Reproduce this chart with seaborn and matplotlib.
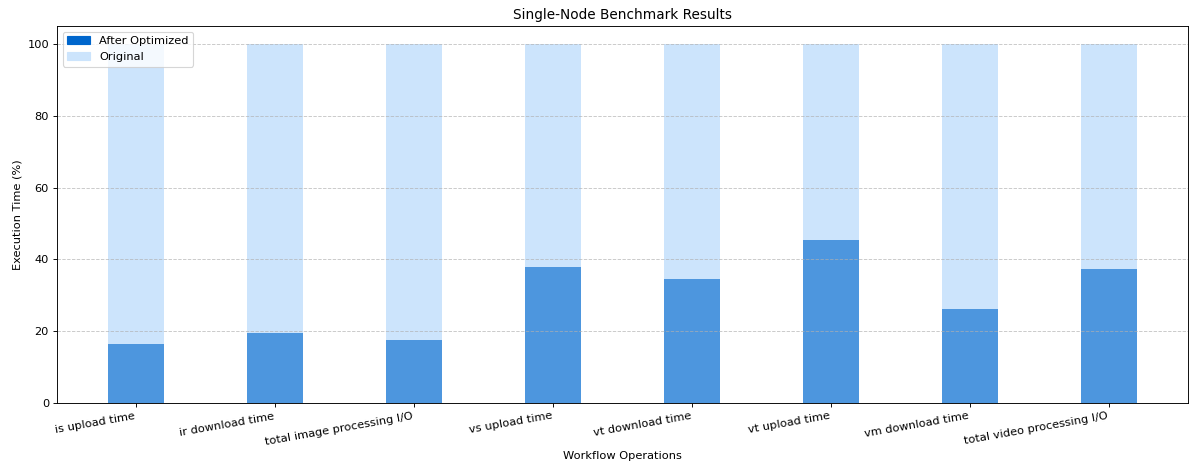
import matplotlib.pyplot as plt
import pandas as pd
import seaborn as sns
from matplotlib.patches import Patch

operations = [
    "is upload time",
    "ir download time",
    "total image processing I/O",
    "vs upload time",
    "vt download time",
    "vt upload time",
    "vm download time",
    "total video processing I/O",
]
original = [100, 100, 100, 100, 100, 100, 100, 100]
optimized = [16.4, 19.5, 17.5, 37.9, 34.5, 45.4, 26.2, 37.3]


def main():
    df = pd.DataFrame({"op": operations, "original": original, "optimized": optimized})

    # the reference looks like it was rendered at ~82 dpi
    dpi = 82
    fig, ax = plt.subplots(figsize=(1189 / dpi, 466 / dpi), dpi=dpi)

    sns.barplot(data=df, x="op", y="original", color="#cce4fc", width=0.4,
                saturation=1, ax=ax)
    sns.barplot(data=df, x="op", y="optimized", color="#0066cc", width=0.4,
                saturation=1, alpha=0.62, ax=ax)

    ax.set_xlim(-0.57, len(operations) - 0.43)
    ax.set_ylim(0, 105)
    ax.set_title("Single-Node Benchmark Results")
    ax.set_xlabel("Workflow Operations")
    ax.set_ylabel("Execution Time (%)")
    ax.set_xticks(range(len(operations)))
    ax.set_xticklabels(operations, rotation=10, ha="right")
    ax.grid(axis="y", linestyle="--", alpha=0.7)

    handles = [Patch(color="#0066cc", label="After Optimized"),
               Patch(color="#cce4fc", label="Original")]
    ax.legend(handles=handles, loc="upper left")

    fig.subplots_adjust(left=57 / 1189, right=1188 / 1189, top=1 - 26 / 466, bottom=1 - 403 / 466)
    fig.savefig("out.png", dpi=dpi)


if __name__ == "__main__":
    main()
